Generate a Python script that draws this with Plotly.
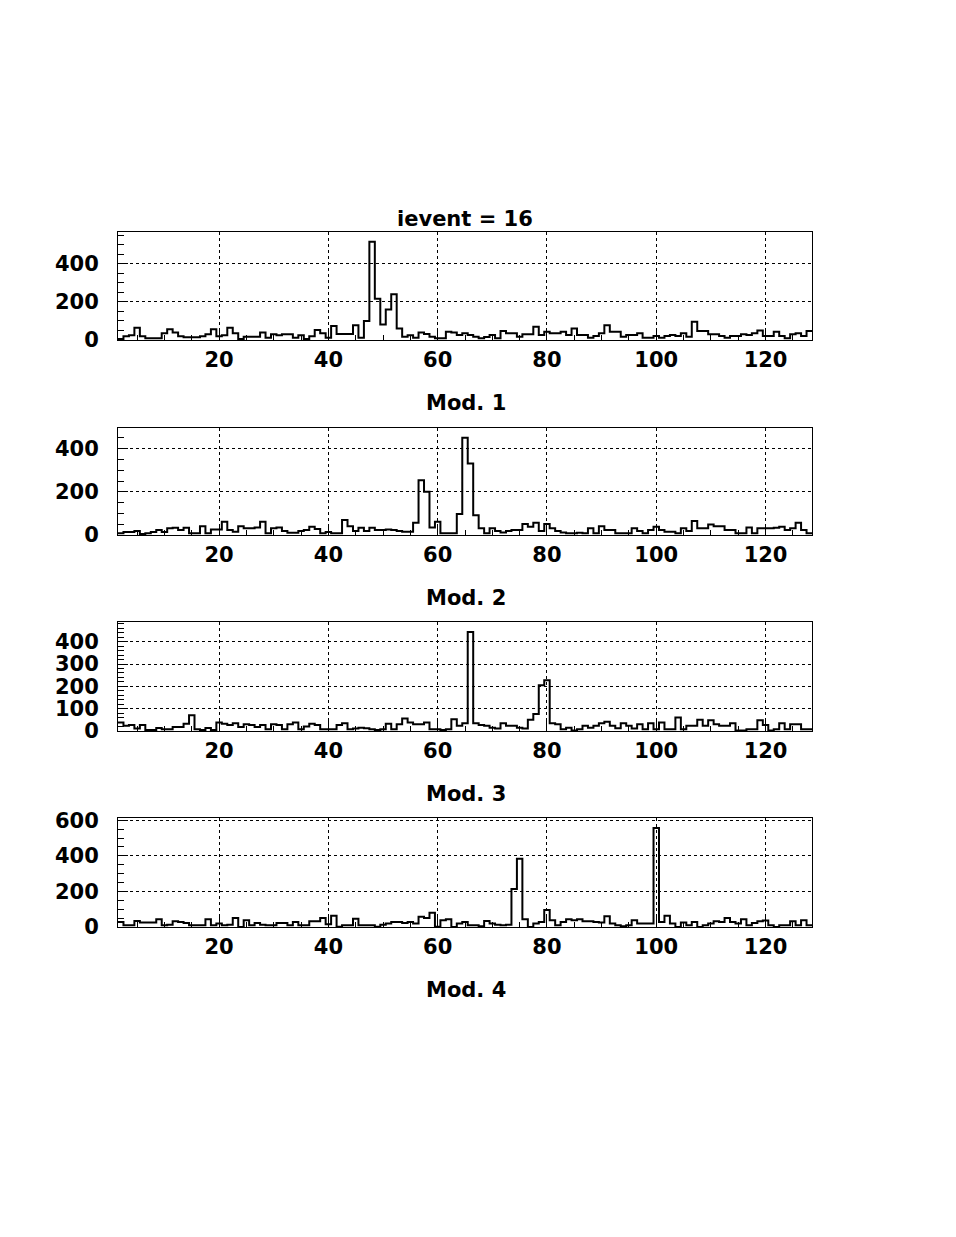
import plotly.graph_objects as go

# bin centres of the 127-channel histograms
bins = list(range(2, 129))

mod1 = [5, 20, 25, 64, 20, 9, 9, 9, 35, 56, 40, 20, 15, 15, 15, 20, 30, 56, 20, 25,
        64, 35, 5, 17, 17, 17, 40, 12, 30, 25, 30, 30, 12, 25, 5, 20, 52, 35, 12, 73,
        31, 31, 31, 78, 12, 100, 516, 217, 82, 160, 240, 61, 17, 25, 12, 40, 31, 17,
        9, 9, 43, 40, 26, 35, 26, 17, 9, 16, 26, 9, 47, 35, 35, 17, 30, 30, 70, 26,
        43, 35, 35, 43, 26, 61, 26, 26, 12, 21, 35, 78, 43, 43, 17, 26, 26, 35, 12, 12,
        21, 12, 21, 26, 21, 35, 17, 96, 47, 47, 30, 30, 21, 12, 21, 21, 30, 26, 35, 50,
        21, 21, 43, 21, 9, 30, 35, 21, 47]

mod2 = [8, 14, 14, 18, 5, 8, 14, 23, 14, 31, 34, 23, 34, 8, 8, 41, 8, 26, 26, 62,
        23, 15, 41, 31, 31, 35, 62, 8, 31, 35, 18, 11, 11, 18, 23, 38, 28, 8,
        14, 8, 8, 69, 41, 18, 34, 18, 34, 23, 23, 26, 23, 18, 15, 15, 57, 254, 200, 35,
        62, 8, 8, 8, 97, 451, 331, 92, 31, 8, 31, 18, 12, 18, 23, 23, 51, 38, 57, 18,
        51, 31, 18, 12, 8, 8, 11, 8, 31, 8, 41, 23, 23, 8, 8, 8, 31, 18, 8, 23,
        38, 23, 15, 15, 8, 31, 18, 65, 31, 31, 49, 41, 41, 23, 23, 8, 8, 35, 8, 31,
        31, 31, 34, 38, 23, 31, 57, 23, 8]

mod3 = [38, 23, 27, 11, 27, 5, 5, 14, 8, 8, 18, 18, 33, 71, 8, 5, 14, 5, 38, 33,
        27, 35, 18, 30, 27, 18, 27, 8, 30, 27, 8, 30, 38, 8, 20, 33, 27, 8, 8, 8,
        27, 35, 8, 11, 15, 12, 8, 5, 8, 33, 8, 30, 56, 38, 30, 30, 38, 8,
        8, 5, 8, 53, 23, 35, 444, 35, 27, 23, 15, 11, 35, 23, 23, 15, 11, 50, 76, 205,
        227, 35, 30, 8, 15, 2, 8, 23, 15, 23, 35, 41, 23, 12, 35, 23, 11, 30, 8, 35,
        8, 38, 8, 8, 61, 8, 23, 23, 50, 23, 48, 30, 23, 23, 35, 2, 2, 8, 8, 48,
        27, 2, 8, 35, 8, 30, 30, 8, 8]

mod4 = [28, 10, 10, 34, 25, 25, 25, 44, 10, 13, 32, 28, 23, 10, 10, 10, 44, 10, 19, 10,
        13, 51, 0, 38, 10, 23, 13, 10, 10, 23, 23, 10, 28, 10, 10, 32, 32, 51, 15, 63,
        2, 10, 10, 47, 10, 10, 10, 2, 13, 19, 28, 28, 23, 28, 19, 57, 51, 80,
        2, 38, 44, 0, 19, 28, 10, 10, 4, 34, 19, 13, 10, 13, 213, 384, 44, 0, 19, 28,
        95, 38, 10, 28, 44, 38, 44, 32, 32, 28, 25, 61, 19, 10, 4, 10, 38, 19, 19, 19,
        557, 28, 63, 19, 0, 25, 10, 28, 0, 10, 19, 32, 28, 51, 28, 19, 44, 10, 23, 32,
        36, 10, 0, 10, 10, 32, 10, 38, 10]

modules = [mod1, mod2, mod3, mod4]
mod_titles = ['Mod. 1', 'Mod. 2', 'Mod. 3', 'Mod. 4']
main_title = 'ievent = 16'
y_major = [200, 200, 100, 200]
y_minor = [50, 50, 20, 50]

W, H = 940, 1221   # page is 956x1237 minus the 8px body margin
OFF = 8
# pad frames in page pixels (top, bottom)
frames = [(232, 340), (428, 535), (622, 731), (818, 927)]
x_left, x_right = 118, 812

FONT = dict(family='DejaVu Sans', size=21, color='black', weight='bold')


def py(v):
    return 1 - (v - OFF) / H


def px(v):
    return (v - OFF) / W


fig = go.Figure()
layout = dict(width=W, height=H, margin=dict(l=0, r=0, t=0, b=0),
              paper_bgcolor='white', plot_bgcolor='white', showlegend=False)

annotations = []
for i, vals in enumerate(modules):
    n = i + 1
    xs = [b - 0.5 for b in bins] + [bins[-1] + 0.5]
    ys = list(vals) + [vals[-1]]
    fig.add_trace(go.Scatter(x=xs, y=ys, mode='lines', line_shape='hv',
                             line=dict(color='black', width=2),
                             xaxis='x' + str(n), yaxis='y' + str(n),
                             hoverinfo='skip'))
    top, bot = frames[i]
    layout['xaxis' + str(n)] = dict(
        domain=[px(x_left), px(x_right)], anchor='y' + str(n),
        range=[bins[0] - 0.5, bins[-1] + 0.5], tick0=0, dtick=20,
        ticks='inside', ticklen=10, tickcolor='black',
        minor=dict(dtick=5, ticks='inside', ticklen=5, tickcolor='black'),
        showgrid=True, gridcolor='black', griddash='dot', gridwidth=1,
        showline=True, mirror=True, linecolor='black', linewidth=1,
        zeroline=False, tickfont=FONT, ticklabelstandoff=1, automargin=False)
    layout['yaxis' + str(n)] = dict(
        domain=[py(bot), py(top)], anchor='x' + str(n),
        range=[0, 1.1 * max(vals)], tick0=0, dtick=y_major[i],
        ticks='inside', ticklen=10, tickcolor='black',
        minor=dict(dtick=y_minor[i], ticks='inside', ticklen=6, tickcolor='black'),
        showgrid=True, gridcolor='black', griddash='dot', gridwidth=1,
        showline=True, mirror=True, linecolor='black', linewidth=1,
        zeroline=False, tickfont=FONT, ticklabelstandoff=14, automargin=False)
    annotations.append(dict(text=mod_titles[i], x=px(466), y=py(bot + 63),
                            xref='paper', yref='paper', showarrow=False,
                            xanchor='center', yanchor='middle', font=FONT))

annotations.append(dict(text=main_title, x=px(465), y=py(219),
                        xref='paper', yref='paper', showarrow=False,
                        xanchor='center', yanchor='middle', font=FONT))
layout['annotations'] = annotations
fig.update_layout(**layout)

fig.write_html('out.html')
